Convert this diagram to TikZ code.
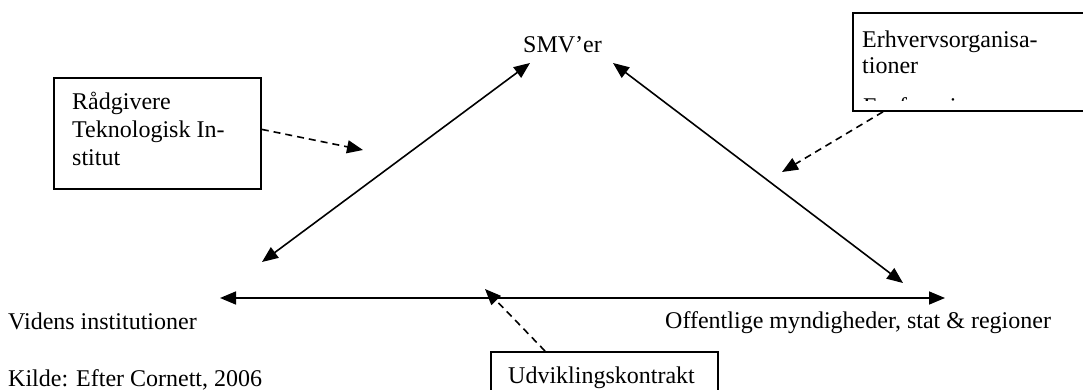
\documentclass[tikz,border=0pt]{standalone}
\usepackage{fontspec}
\setmainfont{Liberation Serif}
\usetikzlibrary{arrows.meta}
\begin{document}
\begin{tikzpicture}[x=1pt,y=-1pt,
  lbl/.style={inner sep=0pt, anchor=base west, font=\fontsize{24}{28}\selectfont},
  frame/.style={draw, line width=1.8pt, inner sep=0pt, anchor=north west},
  link/.style={line width=1.6pt, {Triangle[length=16pt,width=13pt]}-{Triangle[length=16pt,width=13pt]}},
  hint/.style={line width=1.6pt, dash pattern=on 7pt off 5pt, -{Triangle[length=16pt,width=13pt]}}]
\useasboundingbox (0,0) rectangle (1083,390);
\clip (0,0) rectangle (1083,390);

% actors
\node[lbl] (smv) at (523,53) {SMV’er};
\node[lbl] (viden) at (8,329) {Videns institutioner};
\node[lbl] (off) at (665,328) {Offentlige myndigheder, stat \& regioner};
\node[lbl] (kilde) at (8,386) {Kilde: Efter Cornett, 2006};

% arrow ends around the triangle
\coordinate (smvL) at (530,63);
\coordinate (smvR) at (613,63);
\coordinate (vidD) at (262,262);
\coordinate (offD) at (903,283);
\coordinate (vidH) at (220,298);
\coordinate (offH) at (945,298);

\draw[link] (vidD) -- (smvL);
\draw[link] (smvR) -- (offD);
\draw[link] (vidH) -- (offH);

% advisers
\node[frame, minimum width=207pt, minimum height=111pt] (radbox) at (53,77) {};
\node[lbl] (rad1) at (72,110) {Rådgivere};
\node[lbl] (rad2) at (72,138) {Teknologisk In-};
\node[lbl] (rad3) at (72,166) {stitut};
\coordinate (radT) at (363,150);
\draw[hint] ([yshift=4pt]radbox.east) -- (radT);

% business organisations
\node[frame, minimum width=260pt, minimum height=98pt] (erhbox) at (852,12) {};
\node[lbl] (erh1) at (862,48) {Erhvervsorganisa-};
\node[lbl] (erh2) at (862,74) {tioner};
\begin{scope}
  \clip (852,12) rectangle (1083,101);
  \node[lbl] (erh3) at (863,115) {Fagforeninger};
\end{scope}
\coordinate (erhT) at (782,172);
\draw[hint] ([xshift=31pt]erhbox.south west) -- (erhT);

% development contract
\node[frame, minimum width=227pt, minimum height=60pt] (udvbox) at (490,351) {};
\node[lbl] (udv) at (508,383) {Udviklingskontrakt};
\coordinate (udvT) at (485,289);
\draw[hint] ([xshift=55pt]udvbox.north west) -- (udvT);
\end{tikzpicture}
\end{document}
